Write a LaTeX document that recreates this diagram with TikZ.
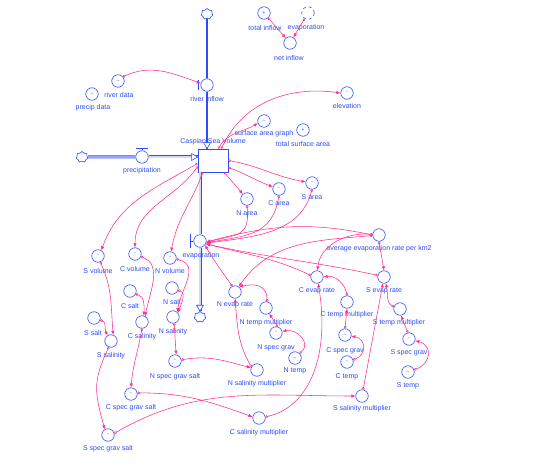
\documentclass[tikz,border=0pt]{standalone}
\usepackage{fontspec}
\setmainfont{Liberation Sans}
\usetikzlibrary{arrows.meta,shapes.symbols}
\definecolor{bl}{RGB}{45,75,250}
\definecolor{pk}{RGB}{255,45,140}
\begin{document}
\begin{tikzpicture}[x=1pt,y=-1pt,
  aux/.style={circle,draw=bl,fill=white,line width=0.6pt,minimum size=12.5pt,inner sep=0pt,font=\fontsize{5.5}{5.5}\selectfont,text=bl},
  ghost/.style={aux,dashed},
  lbl/.style={font=\fontsize{7}{7.5}\selectfont,text=bl,inner sep=0.5pt},
  conn/.style={draw=pk,line width=0.55pt,{Circle[open,length=2.6pt,width=2.6pt]}-{Latex[length=4pt,width=3.4pt]}},
  pipe/.style={draw=bl,line width=0.8pt,double=bl!22,double distance=1.4pt},
  cloudy/.style={cloud,cloud puffs=7,cloud puff arc=150,aspect=1.1,draw=bl,fill=white,line width=0.6pt,minimum width=12pt,minimum height=11pt,inner sep=0pt},
  hd/.style={draw=bl,line width=0.6pt,fill=white},
  handle/.style={draw=bl,line width=1.3pt},
]
\useasboundingbox (0,0) rectangle (536,468);

% clouds
\node[cloudy] (cT) at (207,14) {};
\node[cloudy] (cL) at (82,157) {};
\node[cloudy] (cB) at (200,317) {};

% stock
\node[draw=bl,line width=0.8pt,minimum width=30pt,minimum height=23pt,inner sep=0pt] (stk) at (213,160.5) {};

% valves
\node[aux] (ri) at (207,85) {};
\node[aux] (pr) at (142,157) {};
\node[aux] (ev) at (200,241) {};
\coordinate (riBot) at (ri |- stk.north);
\coordinate (prEnd) at (pr -| stk.west);
\coordinate (evTop) at (ev |- stk.south);

% pipes
\draw[bl,line width=1.8pt] (cT.south) -- (ri.north);
\draw[bl,line width=1.8pt] (ri.south) -- (riBot);
\draw[pipe] (cL.east) -- (pr.west);
\draw[pipe] (pr.east) -- (prEnd);
\draw[pipe] (evTop) -- (ev.north);
\draw[pipe] (ev.south) -- (cB.north);
% pipe heads
\draw[hd] (riBot) -- ++(-3.5,-6) -- ++(7,0) -- cycle;
\draw[hd] (prEnd) -- ++(-6,-3.5) -- ++(0,7) -- cycle;
\draw[hd] (cB.north) -- ++(-3.5,-6) -- ++(7,0) -- cycle;
% valve handles
\draw[handle] (ri.west) ++(-1.8,-5) -- ++(0,10);
\draw[handle] (pr.north) ++(-6,-2) -- ++(12,0);
\draw[bl,line width=0.6pt] (pr.north) -- ++(0,-2);
\draw[handle] (ev.west) ++(-3,-6.5) -- ++(0,13);
\draw[bl,line width=0.6pt] (ev.west) -- ++(-3,0);

\node[lbl] (stkL) at (213,142) {Caspian Sea Volume};
\node[lbl] (riL) at (207,99) {river inflow};
\node[lbl] (prL) at (142,171) {precipitation};
\node[lbl] (evL) at (201,256) {evaporation};

% top area
\node[aux] (rd) at (118,81) {\textasciitilde};
\node[lbl] (rdL) at (119,95) {river data};
\node[aux] (pd) at (92,94) {\textasciitilde};
\node[lbl] (pdL) at (93,108) {precip data};
\node[aux] (ti) at (264,13) {+};
\node[lbl] (tiL) at (265,28) {total inflow};
\node[ghost] (ev2) at (308,13) {};
\node[lbl] (ev2L) at (306,28) {evaporation};
\node[aux] (ni) at (290,43) {};
\node[lbl] (niL) at (289,58) {net inflow};
\node[aux] (el) at (347,93) {-};
\node[lbl] (elL) at (347,106) {elevation};
\node[aux] (sag) at (264,121) {\textasciitilde};
\node[lbl] (sagL) at (264,134) {surface area graph};
\node[aux] (tsa) at (303,130) {+};
\node[lbl] (tsaL) at (303,144) {total surface area};

% areas
\node[aux] (Na) at (247,199) {-};
\node[lbl] (NaL) at (247,213) {N area};
\node[aux] (Ca) at (279,189) {-};
\node[lbl] (CaL) at (279,203) {C area};
\node[aux] (Sa) at (312,183) {-};
\node[lbl] (SaL) at (312,197) {S area};

% volumes, salts, salinities
\node[aux] (Sv) at (98,256) {-};
\node[lbl] (SvL) at (98,271) {S volume};
\node[aux] (Cv) at (135,254) {-};
\node[lbl] (CvL) at (135,269) {C volume};
\node[aux] (Nv) at (170,258) {-};
\node[lbl] (NvL) at (170,271) {N volume};
\node[aux] (Cs) at (130,291) {};
\node[lbl] (CsL) at (130,306) {C salt};
\node[aux] (Ns) at (172,288) {};
\node[lbl] (NsL) at (172,302) {N salt};
\node[aux] (Ss) at (94,318) {};
\node[lbl] (SsL) at (93,333) {S salt};
\node[aux] (Csl) at (142,322) {};
\node[lbl] (CslL) at (142,337) {C salinity};
\node[aux] (Nsl) at (173,317) {};
\node[lbl] (NslL) at (173,332) {N salinity};
\node[aux] (Ssl) at (111,341) {};
\node[lbl] (SslL) at (111,356) {S salinity};
\node[aux] (Nsgs) at (175,361) {-};
\node[lbl] (NsgsL) at (175,377) {N spec grav salt};
\node[aux] (Csgs) at (131,394) {-};
\node[lbl] (CsgsL) at (131,408) {C spec grav salt};
\node[aux] (Ssgs) at (108,435) {-};
\node[lbl] (SsgsL) at (108,449) {S spec grav salt};
\node[aux] (Nsm) at (257,370) {};
\node[lbl] (NsmL) at (257,384) {N salinity multiplier};
\node[aux] (Csm) at (259,418) {};
\node[lbl] (CsmL) at (259,433) {C salinity multiplier};
\node[aux] (Ssm) at (362,396) {};
\node[lbl] (SsmL) at (362,409) {S salinity multiplier};

% evaporation rates
\node[aux] (aer) at (379,235) {};
\node[lbl] (aerL) at (379,249) {average evaporation rate per km2};
\node[aux] (Ner) at (235,292) {};
\node[lbl] (NerL) at (235,305) {N evap rate};
\node[aux] (Ntm) at (266,308) {};
\node[lbl] (NtmL) at (266,323) {N temp multiplier};
\node[aux] (Nsg) at (276,333) {-};
\node[lbl] (NsgL) at (276,348) {N spec grav};
\node[aux] (Nt) at (295,358) {\textasciitilde};
\node[lbl] (NtL) at (295,371) {N temp};
\node[aux] (Cer) at (317,277) {};
\node[lbl] (CerL) at (317,291) {C evap rate};
\node[aux] (Ctm) at (347,302) {};
\node[lbl] (CtmL) at (347,315) {C temp multiplier};
\node[aux] (Csg) at (345,335) {\textasciitilde};
\node[lbl] (CsgL) at (345,351) {C spec grav};
\node[aux] (Ct) at (347,362) {-};
\node[lbl] (CtL) at (347,377) {C temp};
\node[aux] (Ser) at (384,277) {};
\node[lbl] (SerL) at (384,291) {S evap rate};
\node[aux] (Stm) at (400,309) {};
\node[lbl] (StmL) at (399,323) {S temp multiplier};
\node[aux] (Ssg) at (409,339) {-};
\node[lbl] (SsgL) at (409,353) {S spec grav};
\node[aux] (St) at (408,372) {\textasciitilde};
\node[lbl] (StL) at (408,386) {S temp};

% connectors
\draw[conn] (rd.40) to[out=25,in=160] (ri.165);
\draw[conn] (ti) -- (ni);
\draw[conn] (ev2) -- (ni);
\draw[conn] ([xshift=-7pt]stk.north east) to[out=65,in=172] (el.west);
\draw[conn] ([xshift=-10pt]stk.north east) to[out=60,in=210] (sag.200);
\draw[conn] (stk.east) to[out=-10,in=170] (Sa.170);
\draw[conn] ([yshift=-7pt]stk.east) to[out=-20,in=160] (Ca.160);
\draw[conn] ([xshift=-4pt]stk.south east) to[out=-50,in=130] (Na.130);
\draw[conn] ([yshift=-3pt]stk.west) to[out=210,in=70] (Sv.60);
\draw[conn] ([yshift=-6pt]stk.west) to[out=235,in=90] (Cv.north);
\draw[conn] ([xshift=5pt]stk.south west) to[out=250,in=80] (Nv.80);

\draw[conn] (Na.south) to[out=-85,in=15,looseness=1.5] (ev.-12);
\draw[conn] (Ca.south) to[out=-100,in=10,looseness=1.2] (ev.-16);
\draw[conn] (Sa.south) to[out=-105,in=8] (ev.-20);
\draw[conn] (aer.west) to[out=168,in=15] (ev.-8);
\draw[conn] (Cer.165) to[out=155,in=-15] (ev.-24);
\draw[conn] (Ser.165) to[out=168,in=-12] (ev.-28);
\draw[conn] (Ner.115) to[out=125,in=-60] (ev.-40);

\draw[conn] (aer.185) to[out=185,in=55] (Ner.55);
\draw[conn] (aer.175) to[out=175,in=85] (Cer.85);
\draw[conn] (aer.south) -- (Ser.north);

\draw[conn] (Ctm.north) to[out=100,in=10] (Cer.0);
\draw[conn] (Csg.north) -- (Ctm.south);
\draw[conn] (Ct.20) to[out=20,in=-10,looseness=1.6] (Csg.-10);
\draw[conn] (Ntm.80) to[out=90,in=15,looseness=1.3] (Ner.50);
\draw[conn] (Nsg.75) -- (Ntm.-60);
\draw[conn] (Nt.45) to[out=40,in=10,looseness=1.4] (Nsg.15);
\draw[conn] (Nsm.150) to[out=120,in=-85] (Ner.south);
\draw[conn] (Stm.160) to[out=150,in=-75] (Ser.-75);
\draw[conn] (Ssg.100) -- (Stm.-80);
\draw[conn] (St.20) to[out=20,in=-15,looseness=1.6] (Ssg.-15);
\draw[conn] (Ssm.80) -- (Ser.-100);
\draw[conn] (Csm.10) .. controls +(45,-10) and +(12,70) .. (Cer.-80);

\draw[conn] (Nsgs.10) to[out=10,in=165] (Nsm.160);
\draw[conn] (Csgs.10) to[out=0,in=160] (Csm.170);
\draw[conn] (Ssgs.15) to[out=30,in=180] (Ssm.180);

\draw[conn] (Nv.-10) to[out=-15,in=80,looseness=1.2] (Nsl.50);
\draw[conn] (Ns.-20) to[out=-20,in=70] (Nsl.40);
\draw[conn] (Cv.-25) to[out=-20,in=80] (Csl.60);
\draw[conn] (Cs.-30) to[out=-10,in=85] (Csl.75);
\draw[conn] (Sv.-70) to[out=-65,in=95] (Ssl.70);
\draw[conn] (Ss.-20) to[out=-15,in=120] (Ssl.120);
\draw[conn] (Ssl.-110) to[out=-115,in=105,looseness=1.2] (Ssgs.120);
\draw[conn] (Csl.south) to[out=-100,in=85] (Csgs.north);
\draw[conn] (Nsl.-80) -- (Nsgs.80);
\end{tikzpicture}
\end{document}
